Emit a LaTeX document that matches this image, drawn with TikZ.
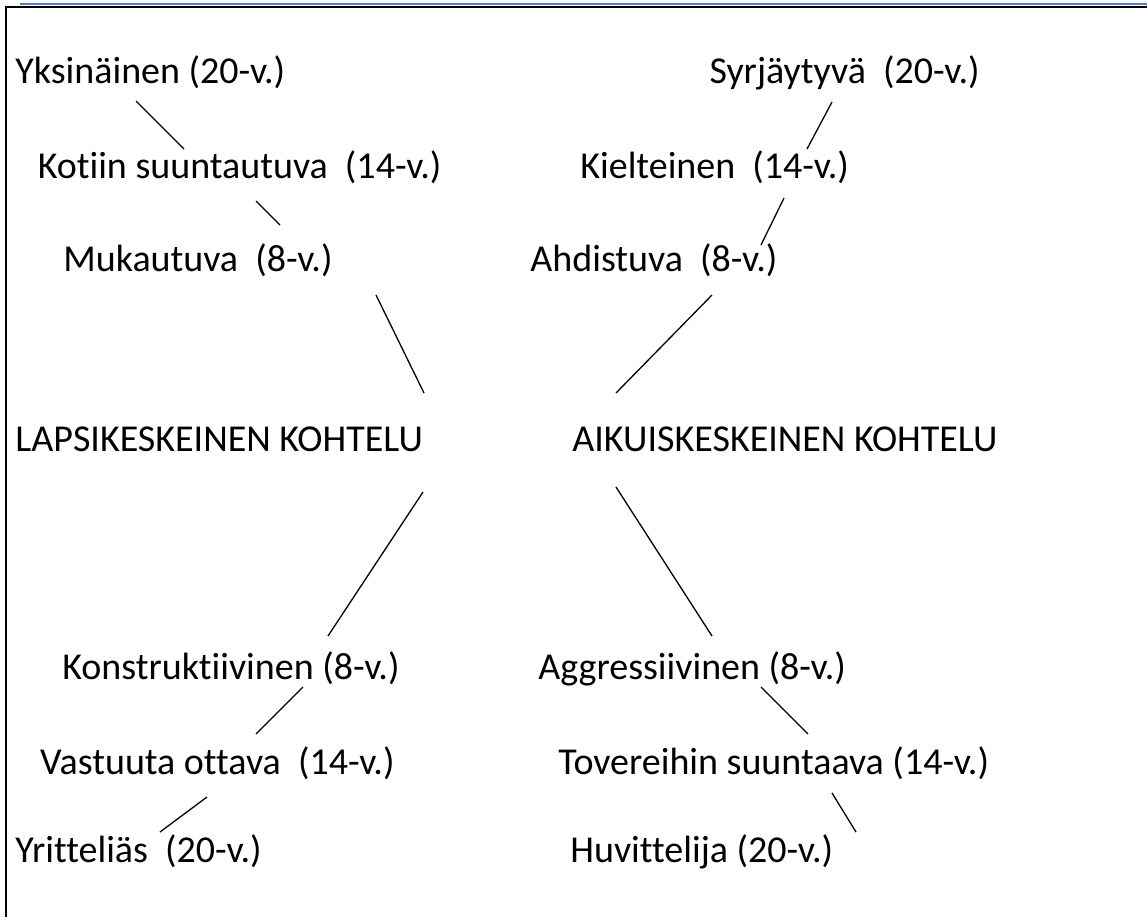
\documentclass[tikz,border=0pt]{standalone}
\usepackage{fontspec}
\setmainfont{Carlito}[Ligatures=NoCommon]
\usepackage{xcolor}
\usetikzlibrary{positioning, calc}
\definecolor{wordblue}{RGB}{79,129,189}

\begin{document}
\begin{tikzpicture}[x=0.5pt, y=-0.5pt,
    lbl/.style={inner sep=0pt, font=\fontsize{19}{22}\selectfont},
    link/.style={line width=0.65pt}]

    \useasboundingbox (0,0) rectangle (1147,917);

    % --- Frame ---
    \draw[wordblue, line width=1pt] (20,4) -- (1147,4);
    \draw[line width=1pt] (1147,6.5) -- (6,6.5) -- (6,917);

    % --- Child-centred side (left) ---
    \node[lbl, anchor=mid west] (yksin)  at (15,79)   {Yksinäinen (20-v.)};
    \node[lbl, anchor=mid east] (kotiin) at (442,174) {Kotiin suuntautuva~ (14-v.)};
    \node[lbl, anchor=mid east] (mukaut) at (333,267) {Mukautuva~ (8-v.)};
    \node[lbl, anchor=mid west] (lapsi)  at (15,447)  {LAPSIKESKEINEN KOHTELU};
    \node[lbl, anchor=mid east] (konstr) at (400,675) {Konstruktiivinen (8-v.)};
    \node[lbl, anchor=mid east] (vastuu) at (395,770) {Vastuuta ottava~ (14-v.)};
    \node[lbl, anchor=mid west] (yritt)  at (15,858)  {Yritteliäs~ (20-v.)};

    % --- Adult-centred side (right) ---
    \node[lbl, anchor=mid east] (syrja)  at (980,79)  {Syrjäytyvä~ (20-v.)};
    \node[lbl, anchor=mid west] (kielt)  at (580,174) {Kielteinen~ (14-v.)};
    \node[lbl, anchor=mid west] (ahdist) at (530,267) {Ahdistuva~ (8-v.)};
    \node[lbl, anchor=mid west] (aikui)  at (572,447) {AIKUISKESKEINEN KOHTELU};
    \node[lbl, anchor=mid west] (aggr)   at (538,675) {Aggressiivinen (8-v.)};
    \node[lbl, anchor=mid west] (tover)  at (558,770) {Tovereihin suuntaava (14-v.)};
    \node[lbl, anchor=mid west] (huvit)  at (570,858) {Huvittelija (20-v.)};

    % --- Line ends ---
    \coordinate (yksinA) at (136,101);  \coordinate (kotiinA) at (184,149);
    \coordinate (kotiinB) at (256,201); \coordinate (mukautA) at (280,225);
    \coordinate (mukautB) at (376,295); \coordinate (lapsiA)  at (424,393);
    \coordinate (lapsiB) at (423,492);  \coordinate (konstrA) at (328,636);
    \coordinate (konstrB) at (303,687); \coordinate (vastuuA) at (256,734);
    \coordinate (vastuuB) at (207,797); \coordinate (yrittA)  at (160,832);

    \coordinate (syrjaA) at (832,102);  \coordinate (kieltA)  at (807,149);
    \coordinate (kieltB) at (784,198);  \coordinate (ahdistA) at (761,245);
    \coordinate (ahdistB) at (712,295); \coordinate (aikuiA)  at (616,393);
    \coordinate (aikuiB) at (616,487);  \coordinate (aggrA)   at (712,636);
    \coordinate (aggrB) at (761,687);   \coordinate (toverA)  at (808,734);
    \coordinate (toverB) at (832,793);  \coordinate (huvitA)  at (856,832);

    % --- Links ---
    \draw[link] (yksinA) -- (kotiinA);
    \draw[link] (kotiinB) -- (mukautA);
    \draw[link] (mukautB) -- (lapsiA);
    \draw[link] (lapsiB) -- (konstrA);
    \draw[link] (konstrB) -- (vastuuA);
    \draw[link] (vastuuB) -- (yrittA);

    \draw[link] (syrjaA) -- (kieltA);
    \draw[link] (kieltB) -- (ahdistA);
    \draw[link] (ahdistB) -- (aikuiA);
    \draw[link] (aikuiB) -- (aggrA);
    \draw[link] (aggrB) -- (toverA);
    \draw[link] (toverB) -- (huvitA);

\end{tikzpicture}
\end{document}
